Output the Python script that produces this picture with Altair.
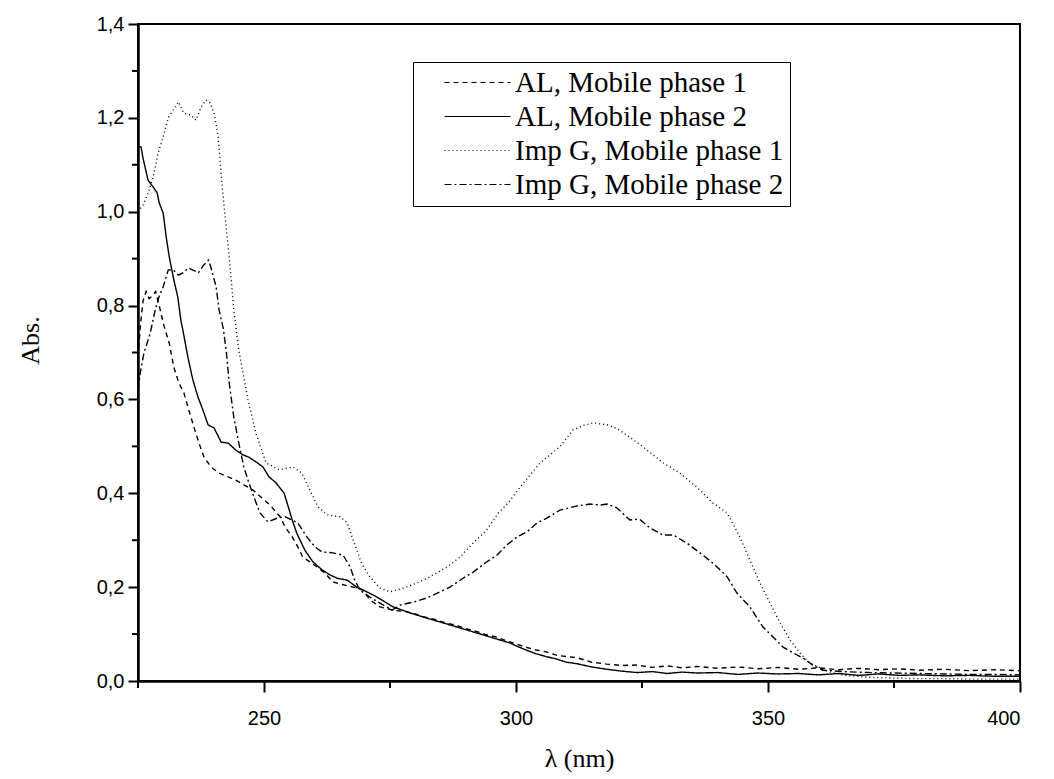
import altair as alt
import pandas as pd

# ---- data ----
al1_x = [225, 225.5, 226.0, 226.6, 227.2, 227.8, 228.5, 229.2, 230.2, 231.2, 232.1, 233.1, 234.1, 235.1,
         236.1, 237.1, 238.1, 239.5, 241.1, 242.9, 244.4, 246.0, 247.8, 249.6, 251.2, 253.2, 254.2, 255.6,
         256.7, 257.7, 259.1, 260.5, 262.1, 263.7, 265.7, 267.7, 269.6, 271.0, 273.0, 275.6, 278, 280, 282,
         284, 286, 288, 290, 292, 294, 296, 298, 300, 302, 304, 306, 308, 310, 312, 315, 318, 321, 324, 327,
         330, 333, 336, 340, 344, 348, 352, 356, 360, 364, 368, 372, 376, 380, 385, 390, 395, 400]
al1_y = [0.69, 0.76, 0.81, 0.83, 0.815, 0.82, 0.83, 0.80, 0.755, 0.72, 0.669, 0.635, 0.614, 0.577,
         0.541, 0.507, 0.477, 0.456, 0.443, 0.435, 0.428, 0.418, 0.407, 0.39, 0.375, 0.35, 0.328, 0.307,
         0.286, 0.264, 0.254, 0.243, 0.23, 0.211, 0.205, 0.2, 0.194, 0.173, 0.158, 0.151, 0.148, 0.143, 0.136,
         0.131, 0.124, 0.119, 0.112, 0.106, 0.099, 0.094, 0.086, 0.079, 0.072, 0.066, 0.062, 0.055, 0.052, 0.05,
         0.04, 0.036, 0.033, 0.034, 0.029, 0.032, 0.028, 0.031, 0.027, 0.03, 0.026, 0.029, 0.025, 0.028,
         0.024, 0.027, 0.024, 0.026, 0.023, 0.025, 0.022, 0.024, 0.022]

al2_x = [225, 225.6, 226.0, 227.0, 228.0, 228.8, 229.2, 230.0, 230.6, 231.2, 232.1, 232.9, 233.5, 233.9,
         234.9, 235.9, 236.9, 237.9, 238.9, 240.1, 241.5, 242.9, 244.4, 245.8, 247.0, 248.4, 249.8, 251.0,
         252.4, 254.0, 254.6, 255.6, 256.5, 258.1, 259.7, 261.5, 263.1, 264.5, 266.5, 268.4, 270.4, 272.4,
         275.6, 279.0, 282.3, 285.5, 288.9, 292.3, 295.4, 298.8, 300, 302, 304, 306, 308, 310, 312, 315, 318,
         321, 324, 327, 330, 333, 336, 340, 344, 348, 352, 356, 360, 364, 368, 372, 376, 380, 385, 390, 395, 400]
al2_y = [1.14, 1.138, 1.114, 1.067, 1.053, 1.04, 1.019, 0.997, 0.946, 0.904, 0.855, 0.818, 0.769, 0.748,
         0.69, 0.641, 0.605, 0.577, 0.546, 0.539, 0.509, 0.507, 0.492, 0.482, 0.477, 0.467, 0.456, 0.435,
         0.422, 0.40, 0.379, 0.343, 0.315, 0.279, 0.254, 0.237, 0.226, 0.219, 0.215, 0.2, 0.19, 0.179,
         0.158, 0.145, 0.134, 0.124, 0.113, 0.102, 0.092, 0.081, 0.075, 0.066, 0.058, 0.052, 0.047, 0.04,
         0.037, 0.03, 0.025, 0.021, 0.018, 0.02, 0.016, 0.019, 0.017, 0.018, 0.014, 0.017, 0.015, 0.016,
         0.013, 0.016, 0.012, 0.015, 0.012, 0.013, 0.011, 0.012, 0.01, 0.01]

img1_x = [225, 226.0, 227.0, 228.0, 229.0, 230.0, 231.0, 232.0, 233.0, 234.1, 235.5, 236.5, 237.5, 238.5,
          239.3, 240.1, 240.9, 241.5, 242.1, 242.9, 243.5, 244.0, 245.0, 246.8, 248.4, 250.4, 253.0, 255.8,
          257.5, 259.1, 260.7, 262.5, 265.1, 266.5, 267.7, 269.4, 271.0, 273.0, 275.0, 277.6, 280.4, 282.9,
          286.3, 288.9, 291.5, 294.2, 296.5, 298.5, 300.8, 304.8, 308.7, 311.3, 313.5, 315.3, 318.1, 320,
          322.0, 325.2, 329.2, 332.5, 335.9, 339.1, 341.9, 344.4, 346.4, 348.4, 350.4, 352.4, 354.4, 356.3,
          358.3, 360.3, 362, 365, 370, 375, 380, 385, 390, 395, 400]
img1_y = [1.0, 1.014, 1.04, 1.074, 1.125, 1.16, 1.2, 1.217, 1.234, 1.21, 1.206, 1.195, 1.223, 1.238,
          1.232, 1.21, 1.16, 1.08, 1.01, 0.925, 0.855, 0.79, 0.705, 0.60, 0.528, 0.465, 0.45, 0.456,
          0.443, 0.407, 0.371, 0.354, 0.35, 0.337, 0.30, 0.25, 0.222, 0.198, 0.19, 0.198, 0.209, 0.222,
          0.243, 0.264, 0.294, 0.322, 0.358, 0.38, 0.413, 0.465, 0.499, 0.535, 0.545, 0.55, 0.546, 0.538,
          0.524, 0.499, 0.465, 0.443, 0.413, 0.379, 0.358, 0.307, 0.258, 0.209, 0.166, 0.124, 0.087, 0.06,
          0.038, 0.028, 0.02, 0.012, 0.008, 0.006, 0.005, 0.005, 0.004, 0.004, 0.004]

img2_x = [225, 225.5, 226.2, 227.4, 228.4, 229.2, 230.0, 231.0, 232.0, 233.0, 234.0, 235.0, 236.0, 237.0,
          238.0, 239.0, 239.5, 240.5, 241.1, 241.9, 242.5, 243.1, 244.0, 245.0, 246.0, 247.0, 248.0, 249.2,
          250.8, 252.6, 254.2, 256.7, 258.5, 260.1, 261.5, 263.7, 265.7, 267.1, 268.0, 269.0, 271.0, 273.0,
          275.4, 277.0, 279.6, 282.3, 284.9, 286.9, 289.5, 291.5, 294.2, 296.2, 298.2, 300.2, 302.2, 304.2,
          306.1, 308.7, 312.1, 314.7, 316.7, 318.1, 320.0, 322.6, 324.5, 326.6, 329.2, 331.2, 333.9, 336.5,
          339.1, 341.9, 343.8, 346.4, 349.0, 351.0, 353.0, 355.0, 356.9, 358.9, 360.9, 365, 370, 375, 380,
          385, 390, 395, 400]
img2_y = [0.62, 0.66, 0.70, 0.74, 0.79, 0.82, 0.84, 0.876, 0.876, 0.865, 0.87, 0.88, 0.875, 0.87,
          0.886, 0.897, 0.88, 0.84, 0.79, 0.752, 0.705, 0.635, 0.563, 0.507, 0.456, 0.422, 0.392, 0.358,
          0.339, 0.347, 0.35, 0.337, 0.307, 0.286, 0.275, 0.273, 0.268, 0.243, 0.215, 0.194, 0.179, 0.166,
          0.151, 0.162, 0.168, 0.177, 0.19, 0.2, 0.219, 0.232, 0.254, 0.268, 0.29, 0.307, 0.318, 0.337,
          0.347, 0.364, 0.373, 0.377, 0.375, 0.377, 0.369, 0.343, 0.345, 0.326, 0.311, 0.311, 0.294, 0.273,
          0.251, 0.222, 0.188, 0.158, 0.115, 0.094, 0.072, 0.06, 0.049, 0.034, 0.023, 0.02, 0.018, 0.017,
          0.016, 0.015, 0.014, 0.014, 0.013]

names = ["AL, Mobile phase 1", "AL, Mobile phase 2", "Imp G, Mobile phase 1", "Imp G, Mobile phase 2"]
dashes = [[5, 4], [1, 0], [1, 3], [7, 3, 2, 3]]

x_major = [250, 300, 350, 400]
x_minor = [225, 275, 325, 375]
y_major = [0.0, 0.2, 0.4, 0.6, 0.8, 1.0, 1.2, 1.4]
y_minor = [0.1, 0.3, 0.5, 0.7, 0.9, 1.1, 1.3]

rows = []
for name, xs, ys in zip(names, [al1_x, al2_x, img1_x, img2_x], [al1_y, al2_y, img1_y, img2_y]):
    for i, (a, b) in enumerate(zip(xs, ys)):
        rows.append({"series": name, "wl": a, "abs": b, "order": i})
df = pd.DataFrame(rows)

W, H = 882, 657

xscale = alt.Scale(domain=[225, 400], nice=False, zero=False)
yscale = alt.Scale(domain=[0, 1.4], nice=False)

x_axis = alt.Axis(values=x_major, tickSize=11, labelPadding=16, format="d",
                  titleFont="Liberation Serif", titleFontSize=26, titleFontWeight="normal",
                  titlePadding=17)
y_axis = alt.Axis(values=y_major, tickSize=10, labelPadding=4,
                  labelExpr="replace(format(datum.value, '.1f'), '.', ',')",
                  titleFont="Liberation Serif", titleFontSize=26, titleFontWeight="normal",
                  titleX=-108, titleY=316, titleBaseline="middle", titleAlign="center")

lines = alt.Chart(df).mark_line(strokeWidth=1.4, color="black").encode(
    x=alt.X("wl:Q", scale=xscale, title="λ (nm)", axis=x_axis),
    y=alt.Y("abs:Q", scale=yscale, title="Abs.", axis=y_axis),
    strokeDash=alt.StrokeDash("series:N",
                              scale=alt.Scale(domain=names, range=dashes),
                              legend=alt.Legend(title=None, orient="none", legendX=275, legendY=38,
                                                strokeColor="black", padding=6,
                                                symbolType="M-3,0H3", symbolSize=484,
                                                symbolStrokeWidth=1.2, symbolStrokeColor="black",
                                                labelFont="Liberation Serif", labelFontSize=29,
                                                labelLimit=0, rowPadding=4,
                                                symbolOffset=44, labelOffset=23)),
    order="order:Q",
)

xm = alt.Chart(pd.DataFrame({"v": x_minor})).mark_rule(color="black", strokeWidth=2).encode(
    x=alt.X("v:Q", scale=xscale, title="λ (nm)", axis=x_axis), y=alt.value(H), y2=alt.value(H + 7))
ym = alt.Chart(pd.DataFrame({"v": y_minor})).mark_rule(color="black", strokeWidth=2).encode(
    y=alt.Y("v:Q", scale=yscale, title="Abs.", axis=y_axis), x=alt.value(0), x2=alt.value(-6))

chart = alt.layer(lines, xm, ym).properties(
    width=W, height=H,
    background="white",
    autosize=alt.AutoSizeParams(type="none"),
    padding={"left": 138, "top": 24, "right": 34, "bottom": 98},
).configure_view(stroke="black", strokeWidth=2).configure_axis(
    domainColor="black", domainWidth=2.5, tickColor="black", tickWidth=2, grid=False,
    labelFont="Liberation Sans", labelFontSize=20, labelColor="black", titleColor="black",
)

chart.save("out.html", embed_options={"renderer": "svg", "actions": False})
